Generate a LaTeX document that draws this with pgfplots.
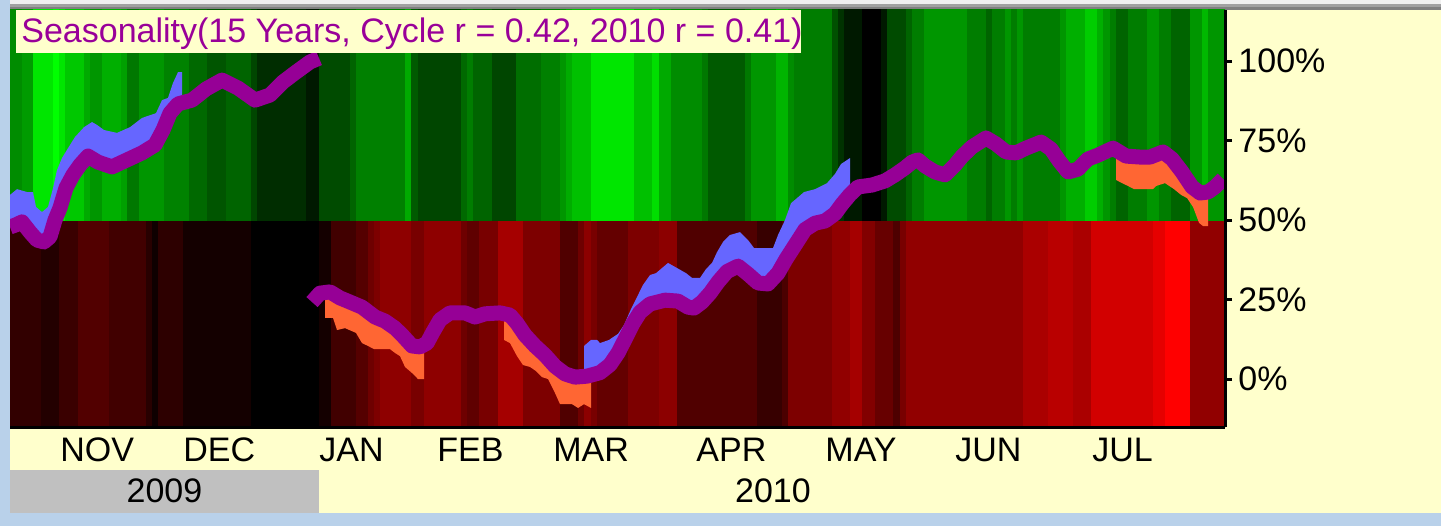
\documentclass[border=0pt]{standalone}
\usepackage{fontspec}
\setmainfont{Liberation Sans}
\usepackage{pgfplots}
\pgfplotsset{compat=1.18}
\definecolor{bgyellow}{RGB}{255,255,204}
\definecolor{frameblue}{RGB}{185,209,234}
\definecolor{seaspurple}{RGB}{150,0,150}
\definecolor{titlepurple}{RGB}{153,0,153}
\definecolor{upblue}{RGB}{102,102,255}
\definecolor{downorange}{RGB}{255,102,51}
\definecolor{yeargray}{RGB}{192,192,192}
\newcommand\chartfont{\fontsize{17bp}{20bp}\selectfont}
\begin{document}
\begin{tikzpicture}
\begin{scope}[x=0.5bp,y=-0.5bp]
\useasboundingbox (0,0) rectangle (1441,526);
\fill[frameblue] (0,0) rectangle (1441,526);
\fill[bgyellow] (10,10) rectangle (1441,513);
\fill[yeargray] (10,470) rectangle (319,513);
\fill[black!6] (10,0) rectangle (1441,4);
\fill[black!37] (10,4) rectangle (1441,7);
\fill[black!50] (10,7) rectangle (1441,10);
\end{scope}
\begin{axis}[
  at={(5bp,-213.5bp)}, anchor=south west,
  scale only axis, width=607.5bp, height=208.5bp,
  xmin=10, xmax=1225, ymin=-15.09, ymax=116.04,
  axis on top,
  axis x line*=bottom, axis y line*=right,
  axis line style={-, line width=1.5bp, black},
  xtick={60,183,319,437,553,696,825,955,1092},
  xticklabels={NOV,DEC,JAN,FEB,MAR,APR,MAY,JUN,JUL},
  ytick={0,25,50,75,100},
  yticklabels={0\%,25\%,50\%,75\%,100\%},
  tick align=outside,
  major tick length=3.5bp,
  ytick style={line width=1.5bp, black},
  xtick style={draw=none},
  tick label style={font=\chartfont, inner sep=0pt},
  xticklabel style={anchor=base west, yshift=-13.5bp},
  yticklabel style={anchor=west, xshift=3bp},
  colormap={rg}{rgb255=(255,0,0) rgb255=(0,0,0) rgb255=(0,255,0)},
  point meta min=-255, point meta max=255,
]
% heat stripes: bottom row = red intensity (negative), middle row = green intensity
\addplot[surf, shader=flat corner, point meta=explicit] coordinates {
(10,-16)[-50] (22,-16)[-50] (33,-16)[-50] (41,-16)[-35] (53,-16)[-35] (59,-16)[-58] (65,-16)[-58] (78,-16)[-82] (84,-16)[-82] (90,-16)[-82] (102,-16)[-82] (109,-16)[-65] (121,-16)[-65] (127,-16)[-65] (139,-16)[-65] (146,-16)[-40] (152,-16)[-15] (158,-16)[-45] (164,-16)[-45] (183,-16)[-20] (189,-16)[-20] (207,-16)[-20] (226,-16)[-20] (251,-16)[0] (257,-16)[0] (306,-16)[0] (319,-16)[-20] (331,-16)[-65] (350,-16)[-65] (356,-16)[-85] (368,-16)[-110] (374,-16)[-125] (380,-16)[-142] (405,-16)[-142] (411,-16)[-120] (418,-16)[-120] (424,-16)[-142] (461,-16)[-110] (467,-16)[-95] (473,-16)[-95] (479,-16)[-120] (492,-16)[-120] (498,-16)[-165] (516,-16)[-165] (523,-16)[-125] (541,-16)[-125] (560,-16)[-80] (566,-16)[-80] (572,-16)[-80] (578,-16)[-110] (584,-16)[-140] (591,-16)[-120] (597,-16)[-100] (628,-16)[-125] (634,-16)[-125] (652,-16)[-125] (659,-16)[-140] (671,-16)[-140] (677,-16)[-80] (702,-16)[-80] (708,-16)[-80] (745,-16)[-80] (751,-16)[-80] (757,-16)[-55] (776,-16)[-55] (782,-16)[-75] (788,-16)[-125] (794,-16)[-125] (832,-16)[-145] (838,-16)[-145] (844,-16)[-145] (850,-16)[-165] (862,-16)[-130] (875,-16)[-103] (881,-16)[-103] (887,-16)[-103] (893,-16)[-78] (900,-16)[-120] (906,-16)[-145] (912,-16)[-145] (924,-16)[-145] (967,-16)[-145] (986,-16)[-145] (992,-16)[-145] (1005,-16)[-145] (1011,-16)[-145] (1017,-16)[-145] (1023,-16)[-170] (1048,-16)[-185] (1060,-16)[-185] (1066,-16)[-185] (1073,-16)[-170] (1085,-16)[-170] (1091,-16)[-210] (1097,-16)[-210] (1103,-16)[-210] (1110,-16)[-210] (1116,-16)[-210] (1128,-16)[-210] (1147,-16)[-210] (1153,-16)[-230] (1159,-16)[-230] (1165,-16)[-255] (1171,-16)[-255] (1190,-16)[-145] (1202,-16)[-145] (1208,-16)[-145] (1226,-16)[0]

(10,50)[140] (22,50)[155] (33,50)[230] (41,50)[230] (53,50)[255] (59,50)[230] (65,50)[200] (78,50)[200] (84,50)[170] (90,50)[150] (102,50)[175] (109,50)[175] (121,50)[160] (127,50)[120] (139,50)[150] (146,50)[150] (152,50)[150] (158,50)[150] (164,50)[130] (183,50)[130] (189,50)[105] (207,50)[85] (226,50)[100] (251,50)[70] (257,50)[45] (306,50)[25] (319,50)[75] (331,50)[75] (350,50)[100] (356,50)[128] (368,50)[128] (374,50)[128] (380,50)[128] (405,50)[170] (411,50)[90] (418,50)[70] (424,50)[70] (461,50)[105] (467,50)[125] (473,50)[100] (479,50)[100] (492,50)[70] (498,50)[70] (516,50)[110] (523,50)[110] (541,50)[128] (560,50)[150] (566,50)[172] (572,50)[192] (578,50)[192] (584,50)[192] (591,50)[230] (597,50)[230] (628,50)[230] (634,50)[192] (652,50)[222] (659,50)[170] (671,50)[140] (677,50)[140] (702,50)[120] (708,50)[90] (745,50)[120] (751,50)[150] (757,50)[150] (776,50)[180] (782,50)[180] (788,50)[140] (794,50)[125] (832,50)[80] (838,50)[50] (844,50)[25] (850,50)[25] (862,50)[0] (875,50)[0] (881,50)[25] (887,50)[75] (893,50)[75] (900,50)[75] (906,50)[100] (912,50)[125] (924,50)[150] (967,50)[125] (986,50)[100] (992,50)[125] (1005,50)[150] (1011,50)[125] (1017,50)[150] (1023,50)[125] (1048,50)[125] (1060,50)[150] (1066,50)[175] (1073,50)[175] (1085,50)[205] (1091,50)[205] (1097,50)[175] (1103,50)[150] (1110,50)[125] (1116,50)[100] (1128,50)[125] (1147,50)[150] (1153,50)[150] (1159,50)[125] (1165,50)[125] (1171,50)[100] (1190,50)[150] (1202,50)[185] (1208,50)[150] (1226,50)[0]

(10,117)[0] (22,117)[0] (33,117)[0] (41,117)[0] (53,117)[0] (59,117)[0] (65,117)[0] (78,117)[0] (84,117)[0] (90,117)[0] (102,117)[0] (109,117)[0] (121,117)[0] (127,117)[0] (139,117)[0] (146,117)[0] (152,117)[0] (158,117)[0] (164,117)[0] (183,117)[0] (189,117)[0] (207,117)[0] (226,117)[0] (251,117)[0] (257,117)[0] (306,117)[0] (319,117)[0] (331,117)[0] (350,117)[0] (356,117)[0] (368,117)[0] (374,117)[0] (380,117)[0] (405,117)[0] (411,117)[0] (418,117)[0] (424,117)[0] (461,117)[0] (467,117)[0] (473,117)[0] (479,117)[0] (492,117)[0] (498,117)[0] (516,117)[0] (523,117)[0] (541,117)[0] (560,117)[0] (566,117)[0] (572,117)[0] (578,117)[0] (584,117)[0] (591,117)[0] (597,117)[0] (628,117)[0] (634,117)[0] (652,117)[0] (659,117)[0] (671,117)[0] (677,117)[0] (702,117)[0] (708,117)[0] (745,117)[0] (751,117)[0] (757,117)[0] (776,117)[0] (782,117)[0] (788,117)[0] (794,117)[0] (832,117)[0] (838,117)[0] (844,117)[0] (850,117)[0] (862,117)[0] (875,117)[0] (881,117)[0] (887,117)[0] (893,117)[0] (900,117)[0] (906,117)[0] (912,117)[0] (924,117)[0] (967,117)[0] (986,117)[0] (992,117)[0] (1005,117)[0] (1011,117)[0] (1017,117)[0] (1023,117)[0] (1048,117)[0] (1060,117)[0] (1066,117)[0] (1073,117)[0] (1085,117)[0] (1091,117)[0] (1097,117)[0] (1103,117)[0] (1110,117)[0] (1116,117)[0] (1128,117)[0] (1147,117)[0] (1153,117)[0] (1159,117)[0] (1165,117)[0] (1171,117)[0] (1190,117)[0] (1202,117)[0] (1208,117)[0] (1226,117)[0]
};
% blue areas (2010 above seasonal)
\addplot[fill=upblue, draw=none] coordinates {
(10,57.9) (17,59.7) (27,58.8) (33,58.8) (36,54.1) (42,52.5) (48,54.1) (53,60) (57,65.7) (62,69.5) (68,72.6) (75,76.1) (84,79.2) (92,80.8) (97,79.9) (104,78.3) (117,77.4) (130,79.2) (142,82.1) (156,83.6) (162,87.7) (168,88.4) (173,93.1) (178,96.5) (182,96.5) (182,86.6) (178,86.5) (170,83.6) (163,78.3) (155,73.6) (142,71.1) (127,68.9) (112,66.7) (98,68.2) (88,70.1) (80,67.3) (73,64.2) (66,60.1) (60,53.8) (55,50.0) (50,44.7) (44,43.1) (37,43.7) (30,46.2) (22,49.4) (16,48.5) (10,47.8)
} -- cycle;
\addplot[fill=upblue, draw=none] coordinates {
(584,0.9) (584,10.4) (591,12.3) (597,12.3) (600,11.3) (609,12.3) (618,14.2) (624,17.0) (631,22.0) (637,25.8) (643,29.6) (650,32.7) (656,33.3) (662,34.9) (668,36.5) (677,34.9) (686,33.3) (692,31.8) (700,31.8) (706,34.6) (712,36.5) (717,39.9) (723,43.1) (730,45.3) (740,46.2) (748,43.7) (754,41.2) (773,41.2) (778,45.3) (785,50.0) (791,55.3) (797,56.9) (804,58.8) (815,59.7) (827,61.6) (835,64.5) (841,67.6) (850,69.5) (850,58.0) (842,55.0) (835,52.0) (825,49.7) (815,49.0) (805,47.0) (795,42.1) (786,37.7) (778,33.3) (768,29.9) (758,30.2) (748,33.0) (738,35.5) (727,33.8) (718,30.5) (710,27.0) (702,24.2) (694,22.3) (688,22.6) (678,24.5) (665,24.8) (650,23.6) (640,21.0) (633,17.5) (625,12.5) (618,8.2) (610,4.5) (600,2.0) (587,0.9)
} -- cycle;
% orange areas (2010 below seasonal)
\addplot[fill=downorange, draw=none] coordinates {
(325,27.2) (330,27.4) (340,25.5) (350,24.2) (362,22.6) (375,19.5) (385,18.2) (395,16.0) (403,13.5) (412,10.4) (420,10.1) (424,10.6) (424,0.0) (418,0.0) (412,1.9) (405,3.8) (400,7.2) (395,8.2) (390,9.4) (374,9.4) (368,10.4) (362,11.3) (356,14.5) (345,16.0) (337,15.4) (333,19.2) (325,19.2)
} -- cycle;
\addplot[fill=downorange, draw=none] coordinates {
(504,20.7) (510,20.1) (517,17.5) (525,13.8) (535,10.4) (545,7.5) (555,4.0) (565,1.6) (575,0.6) (587,0.9) (591,1.2) (591,-9.1) (584,-7.9) (578,-9.1) (572,-7.9) (560,-7.9) (555,-4.4) (548,0.0) (542,0.6) (536,2.5) (530,3.8) (523,4.4) (517,7.2) (510,11.3) (504,12.3)
} -- cycle;
\addplot[fill=downorange, draw=none] coordinates {
(1116,72.0) (1126,70.1) (1140,69.8) (1150,69.8) (1163,71.4) (1172,69.2) (1182,65.1) (1192,60.4) (1200,58.5) (1208,58.8) (1208,48.1) (1203,48.1) (1199,49.1) (1193,54.1) (1187,56.9) (1181,57.9) (1174,59.7) (1165,61.6) (1156,60.7) (1153,59.7) (1134,59.7) (1128,60.7) (1122,61.6) (1116,62.6)
} -- cycle;
% seasonal curve
\addplot[seaspurple, line width=7.5bp, line join=round] coordinates {
(10,47.8) (16,48.5) (22,49.4) (30,46.2) (37,43.7) (44,43.1) (50,44.7) (55,50.0) (60,53.8) (66,60.1) (73,64.2) (80,67.3) (88,70.1) (98,68.2) (112,66.7) (127,68.9) (142,71.1) (155,73.6) (163,78.3) (170,83.6) (178,86.5) (192,87.7) (206,91.2) (222,94.0) (238,91.5) (255,87.7) (270,89.3) (283,93.4) (296,96.5) (310,99.7) (319,100.9)
};
\addplot[seaspurple, line width=7.5bp, line join=round] coordinates {
(312,24.2) (320,27.0) (330,27.4) (340,25.5) (350,24.2) (362,22.6) (375,19.5) (385,18.2) (395,16.0) (403,13.5) (412,10.4) (420,10.1) (427,11.3) (433,14.8) (440,18.6) (450,20.8) (465,20.8) (475,19.5) (485,20.5) (500,20.8) (510,20.1) (517,17.5) (525,13.8) (535,10.4) (545,7.5) (555,4.0) (565,1.6) (575,0.6) (587,0.9) (600,2.0) (610,4.5) (618,8.2) (625,12.5) (633,17.5) (640,21.0) (650,23.6) (665,24.8) (678,24.5) (688,22.6) (694,22.3) (702,24.2) (710,27.0) (718,30.5) (727,33.8) (738,35.5) (748,33.0) (758,30.2) (768,29.9) (778,33.3) (786,37.7) (795,42.1) (805,47.0) (815,49.0) (825,49.7) (835,52.0) (842,55.0) (850,58.0) (858,60.4) (872,61.0) (885,62.3) (895,64.2) (905,66.4) (912,68.2) (918,68.9) (925,67.0) (935,65.1) (945,64.2) (955,67.3) (962,70.0) (972,73.0) (986,75.8) (996,73.9) (1006,71.4) (1016,71.1) (1026,72.6) (1041,74.5) (1051,72.3) (1059,68.6) (1068,65.1) (1078,66.0) (1088,69.2) (1098,70.4) (1113,72.6) (1126,70.1) (1140,69.8) (1150,69.8) (1163,71.4) (1172,69.2) (1182,65.1) (1192,60.4) (1200,58.5) (1208,58.8) (1215,60.4) (1223,62.9)
};
\end{axis}
\begin{scope}[x=0.5bp,y=-0.5bp]
\fill[bgyellow] (16,10) rectangle (801,53);
\node[anchor=base west, inner sep=0pt, text=titlepurple, font=\chartfont] at (21,43) {Seasonality(15 Years, Cycle r = 0.42, 2010 r = 0.41)};
\node[anchor=base, inner sep=0pt, font=\chartfont] at (164.5,503) {2009};
\node[anchor=base, inner sep=0pt, font=\chartfont] at (773,503) {2010};
\end{scope}
\end{tikzpicture}
\end{document}
